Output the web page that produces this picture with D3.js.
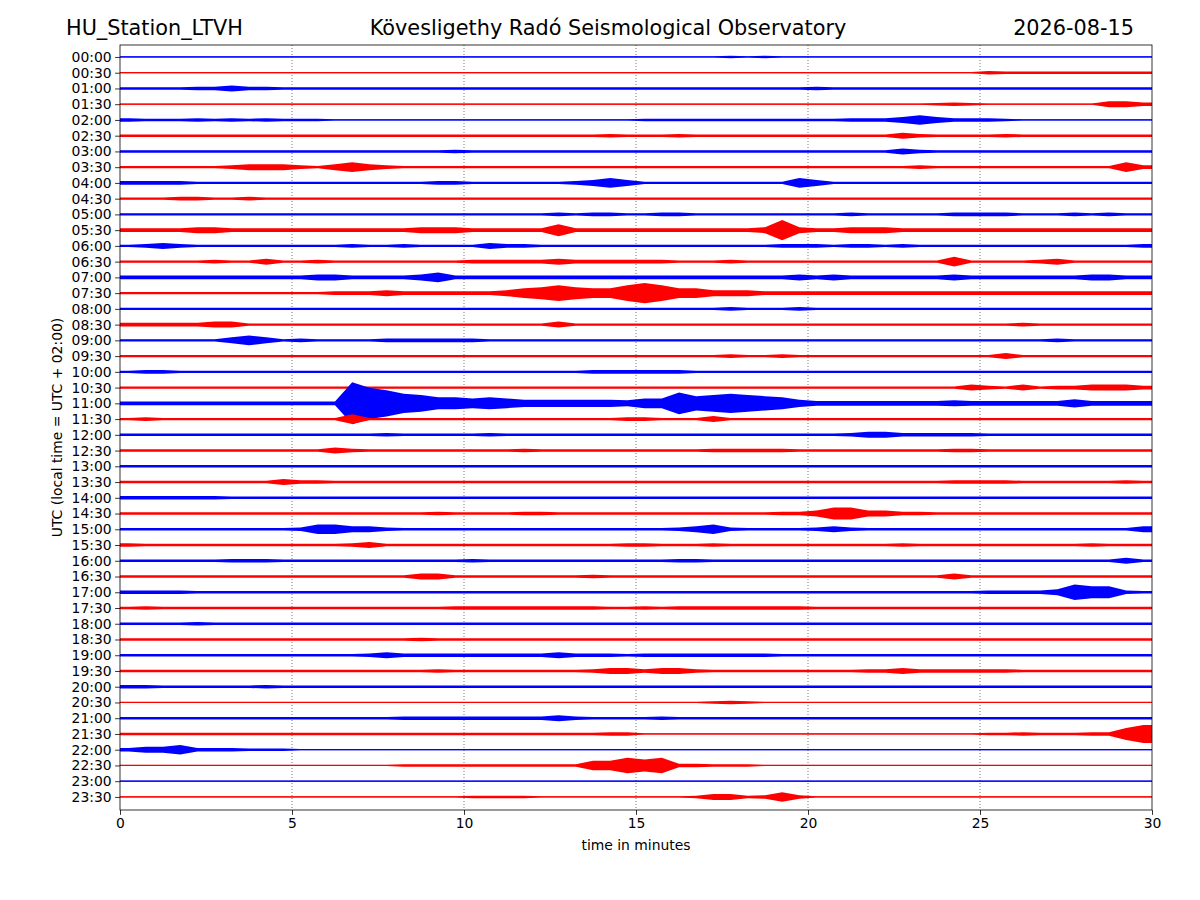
<!DOCTYPE html>
<html>
<head>
<meta charset="utf-8">
<script src="https://cdn.jsdelivr.net/npm/d3@7"></script>
<style>
  body { margin: 0; background: #fff; }
  svg { font-family: "DejaVu Sans", sans-serif; }
</style>
</head>
<body>
<svg id="heli" width="1200" height="900"></svg>
<script>
const station = 'HU_Station_LTVH';
const observatory = 'Kövesligethy Radó Seismological Observatory';
const day = '2026-08-15';

const rowLabels = [
  '00:00','00:30','01:00','01:30','02:00','02:30','03:00','03:30',
  '04:00','04:30','05:00','05:30','06:00','06:30','07:00','07:30',
  '08:00','08:30','09:00','09:30','10:00','10:30','11:00','11:30',
  '12:00','12:30','13:00','13:30','14:00','14:30','15:00','15:30',
  '16:00','16:30','17:00','17:30','18:00','18:30','19:00','19:30',
  '20:00','20:30','21:00','21:30','22:00','22:30','23:00','23:30'
];
const minuteTicks = [0, 5, 10, 15, 20, 25, 30];
const traceColors = ['#0000ff', '#ff0000'];

// envelope half-amplitude per half minute, base-36 digits
// (six groups of ten = 5 minutes each)
const envelopes = [
  '1111111111 1111111111 1111111111 1111121211 1111111111 1111111111', // 00:00
  '1111111111 1111111111 1111111111 1111111111 1111111111 3222222222',
  '2222335332 2222222222 2222222222 2222222222 3222222222 2222222222',
  '1111111111 1111111111 1111111111 1111111111 1111111232 1111111553',
  '3222323232 2211111111 1111111111 2222222222 2233358533 3211111111', // 02:00
  '2222222222 2222222222 2222222232 2232222222 2222253222 2322222222',
  '2222222222 2222222223 2222222222 2222222222 2222253222 2222222222',
  '2222223555 3258532222 2222222222 2222222222 2222223222 2222222283',
  '3333222222 2222222233 2222223585 2222222228 5222222222 2222222222', // 04:00
  '2223322322 2222222222 2222222222 2222222222 2222222222 2222222222',
  '2222222222 2222222222 2222232332 2332222222 2232222233 3322232322',
  '3333553333 3333333555 33333a3333 33333335h5 3355533333 3333333333',
  '2353222222 2223223222 2533222222 2222222233 3233232222 2222222223', // 06:00
  '2222232252 2322222222 3333353333 3322232222 2222222282 2223522222',
  '3333333333 3553333583 3333333333 3333333335 3533333353 3333335533',
  '2222222222 2233353333 3358ada88d hd88555333 3333333333 3333333333',
  '2222222222 2222222222 2222222222 2222232223 2222222222 2222222222', // 08:00
  '3333355222 2222222222 2222252222 2222222222 2222222222 2232222222',
  '2222225852 3222233333 3222222222 2222222222 2222222222 2222322222',
  '2222222222 2222222222 2222222222 2222232232 2222222222 2522222222',
  '2332222222 2222222222 2222222333 3332222222 2222222222 2222222222', // 10:00
  '2222222222 2222222222 2222222222 2222222222 2222222225 3252335553',
  '3333333333 333zqmgeaa 8a86666665 88icegeca6 4444444454 4444474444',
  '2322222222 2228222222 2222222223 3222522222 2222222222 2222222222',
  '2222222222 2222232222 2322222222 2222222222 2235533333 2222222222', // 12:00
  '2222222222 2253222222 2223222222 2222333332 2222222233 2222222222',
  '2222222222 2222222222 2222222222 2222222222 2222222222 2222222222',
  '2222222225 3322222222 2222222222 2222222222 2222222233 3322222232',
  '3333332222 2222222222 2222222222 2222222222 2222222222 2222222222', // 14:00
  '2222222222 2222222232 2223322222 2222222233 5aa5533222 2222222222',
  '2222222222 3885532222 2222222222 2235832222 3532222222 2222222225',
  '3222222222 2223522222 2222222223 3222322222 2222232222 2222223222',
  '2222223332 2222222222 3222222222 2233222222 2222222222 2222222252', // 16:00
  '2222222222 2222222552 2222222322 2222222222 2222222252 2222222222',
  '3333222222 2222222222 2222222222 2222222222 2222222222 33335daa32',
  '2322222222 2222222223 3333333322 3233333333 2222222222 2222222222',
  '2222322222 2222222222 2222222222 2222222222 2222222222 2222222222', // 18:00
  '2222222222 2222222322 2222222222 2222222222 2222222222 2222222222',
  '2222222222 2222353333 3333353332 3333333322 2222222222 2222222222',
  '2222222222 2222222232 2222222355 3553222222 2223353333 3322222222',
  '3322222232 2222222222 2222222222 2222222222 2222222222 2222222222', // 20:00
  '1111111111 1111111111 1111111111 1111232111 1111111111 1111111111',
  '2222222222 2222223333 3333353222 2322222222 2222222222 2222222222',
  '2222222222 2222222222 2222222233 1111111111 1111111111 22322233af',
  '3558333222 1111111111 1111111111 1111111111 1111111111 1111111111', // 22:00
  '1111111111 1111112222 222222288d ad33222111 1111111111 1111111111',
  '1111111111 1111111111 1111111111 1111111111 1111111111 1111111111',
  '1111111111 1111111111 2222111111 1112552383 1111111111 1111111111'
];

const margin = { left: 120, right: 48, top: 45, bottom: 90 };
const width = 1200, height = 900;

const svg = d3.select('#heli');

const x = d3.scaleLinear()
    .domain([0, 30])
    .range([margin.left, width - margin.right]);

const y = d3.scaleLinear()
    .domain([-0.76, 47.83])
    .range([margin.top, height - margin.bottom]);

// amplitude unit -> pixels
const amp = d3.scaleLinear().domain([0, 35]).range([0, 21]);

svg.append('clipPath').attr('id', 'plot-clip')
  .append('rect')
    .attr('x', x(0)).attr('y', y.range()[0])
    .attr('width', x(30) - x(0)).attr('height', y.range()[1] - y.range()[0]);

// dotted minute grid
svg.append('g')
  .selectAll('line')
  .data(minuteTicks.filter(m => m > 0 && m < 30))
  .join('line')
    .attr('x1', d => x(d)).attr('x2', d => x(d))
    .attr('y1', y.range()[0]).attr('y2', y.range()[1])
    .attr('stroke', '#555')
    .attr('stroke-width', 0.8)
    .attr('stroke-dasharray', '1,2');

const traces = envelopes.map((s, i) => {
    const vals = s.replace(/ /g, '').split('').map(c => parseInt(c, 36));
    const pts = vals.map((v, k) => ({ t: (k + 0.5) / 2, v }));
    pts.unshift({ t: 0, v: vals[0] });
    pts.push({ t: 30, v: vals[vals.length - 1] });
    return { row: i, pts };
});

const plot = svg.append('g').attr('clip-path', 'url(#plot-clip)');

const trace = plot.selectAll('g.trace')
  .data(traces)
  .join('g')
    .attr('class', 'trace');

trace.append('path')
    .attr('fill', d => traceColors[d.row % 2])
    .attr('d', d => d3.area()
        .x(p => x(p.t))
        .y0(p => y(d.row) - amp(p.v))
        .y1(p => y(d.row) + amp(p.v))(d.pts));

trace.append('line')
    .attr('x1', x(0)).attr('x2', x(30))
    .attr('y1', d => y(d.row)).attr('y2', d => y(d.row))
    .attr('stroke', d => traceColors[d.row % 2])
    .attr('stroke-width', 1);

// axes
const yAxis = d3.axisLeft(y)
    .tickValues(d3.range(rowLabels.length))
    .tickFormat(i => rowLabels[i])
    .tickSize(4.9)
    .tickPadding(3.5);

const xAxis = d3.axisBottom(x)
    .tickValues(minuteTicks)
    .tickFormat(d3.format('d'))
    .tickSize(4.9)
    .tickPadding(3.5);

const styleAxis = g => {
    g.select('.domain').remove();
    g.selectAll('text').attr('font-size', 13.9).attr('fill', '#000').attr('font-family', '"DejaVu Sans", sans-serif');
    g.selectAll('line').attr('stroke', '#000').attr('stroke-width', 0.8);
};

svg.append('g')
    .attr('transform', `translate(${x(0)},0)`)
    .call(yAxis)
    .call(styleAxis);

svg.append('g')
    .attr('transform', `translate(0,${y.range()[1]})`)
    .call(xAxis)
    .call(styleAxis);

// frame
svg.append('rect')
    .attr('x', x(0)).attr('y', y.range()[0])
    .attr('width', x(30) - x(0)).attr('height', y.range()[1] - y.range()[0])
    .attr('fill', 'none')
    .attr('stroke', '#000')
    .attr('stroke-width', 0.8);

svg.append('text')
    .attr('x', (x(0) + x(30)) / 2)
    .attr('y', 850)
    .attr('text-anchor', 'middle')
    .attr('font-size', 13.9)
    .text('time in minutes');

svg.append('text')
    .attr('transform', `translate(62,${(y.range()[0] + y.range()[1]) / 2}) rotate(-90)`)
    .attr('text-anchor', 'middle')
    .attr('font-size', 13.9)
    .text('UTC (local time = UTC + 02:00)');

// header
svg.append('text').attr('x', 66).attr('y', 35).attr('font-size', 20.8).text(station);
svg.append('text').attr('x', 608).attr('y', 35).attr('font-size', 20.8).attr('text-anchor', 'middle').text(observatory);
svg.append('text').attr('x', 1134).attr('y', 35).attr('font-size', 20.8).attr('text-anchor', 'end').text(day);
</script>
</body>
</html>
